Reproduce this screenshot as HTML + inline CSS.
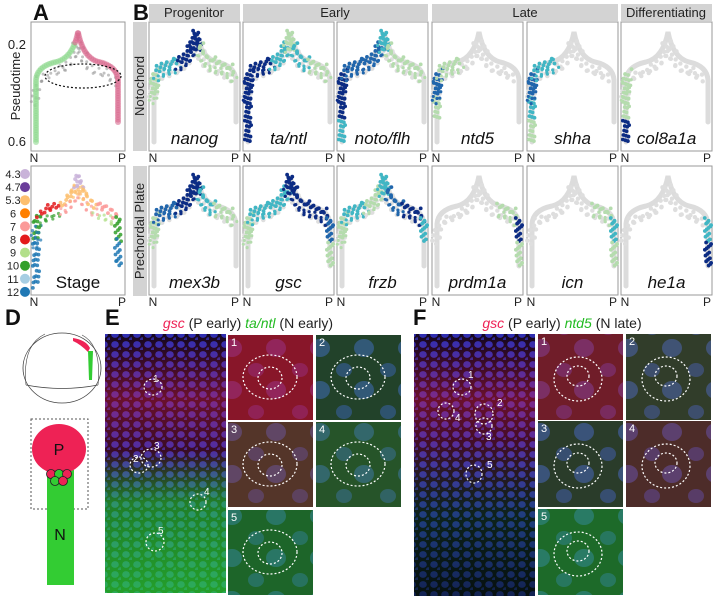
<!DOCTYPE html>
<html><head><meta charset="utf-8">
<style>
body{margin:0;background:#fff;}
svg{display:block;font-family:"Liberation Sans",sans-serif;}
</style></head>
<body>
<svg id="fig" width="715" height="598" viewBox="0 0 715 598">
<defs>
<pattern id="nuc" width="11" height="10" patternUnits="userSpaceOnUse">
<rect width="11" height="10" fill="#080620"/>
<ellipse cx="5" cy="4.5" rx="3.8" ry="3.4" fill="#2430b8"/>
<ellipse cx="10.5" cy="9.5" rx="2.6" ry="2.2" fill="#1e2aa0"/>
</pattern>
<pattern id="nucbig" width="44" height="42" patternUnits="userSpaceOnUse">
<rect width="44" height="42" fill="#0c0c2c"/>
<ellipse cx="12" cy="12" rx="10" ry="9" fill="#2530a8"/>
<ellipse cx="36" cy="34" rx="8" ry="7" fill="#20289a"/>
</pattern>
<linearGradient id="redTop" x1="0" y1="0" x2="0" y2="1">
<stop offset="0" stop-color="#ff2040" stop-opacity="0.05"/>
<stop offset="0.25" stop-color="#ff2040" stop-opacity="0.4"/>
<stop offset="0.5" stop-color="#ff2040" stop-opacity="0.15"/>
<stop offset="0.7" stop-color="#ff2040" stop-opacity="0"/>
</linearGradient>
<linearGradient id="greenBot" x1="0" y1="0" x2="0" y2="1">
<stop offset="0.45" stop-color="#30e030" stop-opacity="0"/>
<stop offset="0.65" stop-color="#30e030" stop-opacity="0.55"/>
<stop offset="1" stop-color="#30e030" stop-opacity="0.7"/>
</linearGradient>
<linearGradient id="greenBotF" x1="0" y1="0" x2="0" y2="1">
<stop offset="0.4" stop-color="#30c030" stop-opacity="0"/>
<stop offset="0.7" stop-color="#30c030" stop-opacity="0.2"/>
<stop offset="1" stop-color="#30c030" stop-opacity="0.15"/>
</linearGradient>
<linearGradient id="darkBot" x1="0" y1="0" x2="0" y2="1">
<stop offset="0.5" stop-color="#000" stop-opacity="0"/>
<stop offset="1" stop-color="#000" stop-opacity="0.5"/>
</linearGradient>
</defs>

<g font-size="13" text-anchor="middle" fill="#222">
<rect x="149" y="4" width="91" height="17" fill="#d3d3d3"/><text x="194" y="17">Progenitor</text>
<rect x="243" y="4" width="185" height="17" fill="#d3d3d3"/><text x="335" y="17">Early</text>
<rect x="432" y="4" width="186" height="17" fill="#d3d3d3"/><text x="525" y="17">Late</text>
<rect x="621" y="4" width="91" height="17" fill="#d3d3d3"/><text x="666" y="17">Differentiating</text>
</g>
<g font-size="13" fill="#222" text-anchor="middle">
<rect x="133" y="22" width="14" height="129" fill="#d3d3d3"/>
<text transform="translate(144,86) rotate(-90)">Notochord</text>
<rect x="133" y="166" width="14" height="130" fill="#d3d3d3"/>
<text transform="translate(144,231) rotate(-90)">Prechordal Plate</text>
</g>

<g font-size="22" font-weight="bold" fill="#111">
<text x="33" y="20">A</text><text x="133" y="20">B</text><text x="33" y="186">C</text>
<text x="5" y="325">D</text><text x="105" y="325">E</text><text x="413" y="325">F</text>
</g>

<g id="plots"></g>

<g font-size="13" fill="#222">
<text x="26" y="49" text-anchor="end">0.2</text>
<text x="26" y="146" text-anchor="end">0.6</text>
<text transform="translate(20,86) rotate(-90)" text-anchor="middle">Pseudotime</text>
</g>
<g font-size="12" fill="#222" id="legend"></g>

<g>
<ellipse cx="62" cy="368" rx="39" ry="35" fill="none" stroke="#444" stroke-width="0.8"/>
<path d="M26,385 Q62,392 98,385" fill="none" stroke="#444" stroke-width="0.8"/>
<path d="M26,385 Q22,345 45,334" fill="none" stroke="#444" stroke-width="0.6"/>
<path d="M98,385 Q102,345 82,335" fill="none" stroke="#444" stroke-width="0.6"/>
<path d="M73,338 Q86,340 90,348 L88,352 Q80,344 73,341Z" fill="#ee2255"/>
<path d="M88,351 L93,351 L92,380 L89,380Z" fill="#33cc33"/>
<rect x="31" y="419" width="57" height="90" fill="none" stroke="#555" stroke-dasharray="2,2" stroke-width="1"/>
<rect x="47" y="470" width="27" height="115" fill="#33cc33"/>
<ellipse cx="59" cy="449" rx="27" ry="25" fill="#ee2255"/>
<text x="59" y="455" font-size="16" text-anchor="middle" fill="#111">P</text>
<text x="60" y="540" font-size="16" text-anchor="middle" fill="#111">N</text>
<g stroke="#222" stroke-width="0.8">
<circle cx="51" cy="474" r="4.5" fill="#ee2255"/><circle cx="59" cy="474" r="4.5" fill="#33cc33"/><circle cx="67" cy="474" r="4.5" fill="#ee2255"/>
<circle cx="55" cy="481" r="4.5" fill="#33cc33"/><circle cx="63" cy="481" r="4.5" fill="#ee2255"/>
</g>
</g>

<text x="248" y="328" font-size="14" text-anchor="middle"><tspan fill="#ee2255" font-style="italic">gsc</tspan><tspan fill="#222"> (P early) </tspan><tspan fill="#22bb22" font-style="italic">ta/ntl</tspan><tspan fill="#222"> (N early)</tspan></text>
<text x="562" y="328" font-size="14" text-anchor="middle"><tspan fill="#ee2255" font-style="italic">gsc</tspan><tspan fill="#222"> (P early) </tspan><tspan fill="#22bb22" font-style="italic">ntd5</tspan><tspan fill="#222"> (N late)</tspan></text>
<g id="micro"></g>
</svg>
<script>
const genesRow1 = ["nanog","ta/ntl","noto/flh","ntd5","shha","col8a1a"];
const genesRow2 = ["mex3b","gsc","frzb","prdm1a","icn","he1a"];
const exprNanog  = [0,0,0.2,0.4,0.9,0.8,0.3,0.2,0,0];
const exprTa     = [0.8,0.9,0.9,0.8,0.4,0.3,0.5,0.2,0,0];
const exprNoto   = [0.5,0.8,0.8,0.7,0.6,0.5,0.3,0.1,0,0];
const exprNtd5   = [0,0.2,0.6,0.3,0,0,0,0,0,0];
const exprShha   = [0.3,0.5,0.7,0.4,0,0,0,0,0,0];
const exprCol8   = [0.9,0.1,0.2,0,0,0,0,0,0,0];
const exprMex3b  = [0,0,0.3,0.6,0.9,0.8,0.5,0.3,0,0];
const exprGsc    = [0,0,0.2,0.4,0.5,0.8,0.9,0.9,0.6,0.2];
const exprFrzb   = [0,0,0.2,0.4,0.3,0.5,0.7,0.8,0.5,0];
const exprPrdm1a = [0,0,0,0,0,0,0,0.2,0.9,0.3];
const exprIcn    = [0,0,0,0,0,0,0,0.3,0.5,0.1];
const exprHe1a   = [0,0,0,0,0,0,0,0,0.4,0.9];
const stageLabels = ["4.3","4.7","5.3","6","7","8","9","10","11","12"];
const stageColors = ["#c9b3d9","#6a3d9a","#fdbf6f","#ff7f00","#fb9a99","#e31a1c","#b2df8a","#33a02c","#a6cee3","#1f78b4"];
const stageByBin = [9,9,7,5,2,0,2,4,7,9];

const NS="http://www.w3.org/2000/svg";
const plots=document.getElementById('plots');
function el(tag,attrs,parent){const e=document.createElementNS(NS,tag);for(const k in attrs)e.setAttribute(k,attrs[k]);(parent||plots).appendChild(e);return e;}
const trajD="M5,120 L5,58 Q6,44 25,40 Q42,36 47,10 Q52,36 68,40 Q86,44 87,58 L87,100";
const tmp=el('path',{d:trajD,fill:'none'});
const L=tmp.getTotalLength();
function pt(f){return tmp.getPointAtLength(f*L);}
function colorOf(v){if(v<=0.05)return null;if(v<0.35)return "#b5dcae";if(v<0.6)return "#41b6c4";if(v<0.8)return "#2166ac";return "#0c2c84";}
function jitter(i){return ((i*37)%11-5)/1.6;}

function panel(x,y,w,h,name){
  const g=el('g',{transform:`translate(${x},${y})`});
  
  
  el('rect',{x:0,y:0,width:w,height:h,fill:'#fff',stroke:'#999','stroke-width':1},g);
  return g;
}
function greyBase(g){
  el('path',{d:trajD,fill:'none',stroke:'#dcdcdc','stroke-width':5,'stroke-linecap':'round'},g);
  for(let i=0;i<60;i++){const f=0.22+0.56*i/60;const p=pt(f);
    el('circle',{cx:p.x+jitter(i)*1.5,cy:p.y+6+Math.abs(jitter(i+7))*2.2,r:2.2,fill:'#dedede'},g);}
}
function exprDots(g,arr){
  const n=140;
  for(let i=0;i<=n;i++){
    const f=i/n;const bin=Math.min(9,Math.floor(f*10));
    const c=colorOf(arr[bin]);if(!c)continue;
    const p=pt(f);
    const d=el('circle',{cx:p.x+jitter(i),cy:p.y+jitter(i+3),r:1.9,fill:c},g);
    
    
    if(bin>=2&&bin<=7){
      const d2=el('circle',{cx:p.x+jitter(i+5)*1.5,cy:p.y+5+Math.abs(jitter(i+1))*2,r:1.6,fill:c},g);
      
      
    }
  }
}
const pxs=[149,243,337,432,527,621];
const rows=[[22,genesRow1,[exprNanog,exprTa,exprNoto,exprNtd5,exprShha,exprCol8]],[166,genesRow2,[exprMex3b,exprGsc,exprFrzb,exprPrdm1a,exprIcn,exprHe1a]]];
rows.forEach(([py,names,data])=>{
  names.forEach((nm,i)=>{
    const g=panel(pxs[i],py,91,129,'gene-panel-'+nm.replace('/','-'));
    greyBase(g);exprDots(g,data[i]);
    const t=el('text',{x:45.5,y:122,'font-size':17,'font-style':'italic','text-anchor':'middle',fill:'#111'},g);
    t.textContent=nm;
    
    ['N','P'].forEach((s,k)=>{const a=el('text',{x:pxs[i]+(k?86:4),y:py+140,'font-size':12,'text-anchor':'middle',fill:'#222'});a.textContent=s;
      });
  });
});
(function(){
  const g=panel(31,22,94,129,'pseudotime-panel');
  for(let i=0;i<60;i++){const f=0.2+0.6*i/60;const p=pt(f);
    el('circle',{cx:p.x+jitter(i)*1.5,cy:p.y+6+Math.abs(jitter(i+7))*2.5,r:1.5,fill:'#999',opacity:0.6},g);}
  for(let i=0;i<=100;i++){const f=i/100;const p=pt(f);
    const d=el('circle',{cx:p.x,cy:p.y,r:3,fill:f<0.5?'#8fd88f':'#d86a90',opacity:0.6},g);
    }
  el('ellipse',{cx:52,cy:54,rx:38,ry:12,fill:'none',stroke:'#111','stroke-dasharray':'2,2','stroke-width':1.2},g);
  ['N','P'].forEach((s,k)=>{const a=el('text',{x:k?122:34,y:162,'font-size':12,'text-anchor':'middle',fill:'#222'});a.textContent=s;
    });
})();
(function(){
  const g=panel(31,166,94,129,'stage-panel');
  for(let i=0;i<=120;i++){const f=i/120;const bin=Math.min(9,Math.floor(f*10));const p=pt(f);
    const d=el('circle',{cx:p.x+jitter(i),cy:p.y+jitter(i+2),r:1.9,fill:stageColors[stageByBin[bin]],opacity:0.85},g);
    
    if(bin>=2&&bin<=7){const d2=el('circle',{cx:p.x+jitter(i+4)*1.5,cy:p.y+6+Math.abs(jitter(i))*2,r:1.6,fill:stageColors[stageByBin[bin]+2]||'#fb9a99',opacity:0.7},g);
      }
  }
  const t=el('text',{x:47,y:122,'font-size':17,'text-anchor':'middle',fill:'#111'},g);t.textContent='Stage';
  ['N','P'].forEach((s,k)=>{const a=el('text',{x:k?122:34,y:306,'font-size':12,'text-anchor':'middle',fill:'#222'});a.textContent=s;
    });
  const lg=document.getElementById('legend');
  stageLabels.forEach((s,i)=>{const y=174+i*13.1;
    const tt=el('text',{x:13,y:y+4,'text-anchor':'middle','font-size':11},lg);tt.textContent=s;
    
    const c=el('circle',{cx:25,cy:y,r:5,fill:stageColors[i]},lg);
    });
})();
const micro=document.getElementById('micro');
function img(x,y,w,h,name,red,green,big,circles,label){
  const g=el('g',{},micro);
  
  el('rect',{x,y,width:w,height:h,fill:big?'url(#nucbig)':'url(#nuc)'},g);
  el('rect',{x,y,width:w,height:h,fill:red},g);
  el('rect',{x,y,width:w,height:h,fill:green},g);
  circles.forEach(c=>el('ellipse',{cx:x+c[0],cy:y+c[1],rx:c[2],ry:c[3],fill:'none',stroke:'#fff','stroke-dasharray':'2,2','stroke-width':1.2},g));
  if(label){const t=el('text',{x:x+3,y:y+11,'font-size':11,fill:'#fff'},g);t.textContent=label;}
}
function solid(c,o){return c.replace(')',','+o+')').replace('rgb','rgba');}
img(105,334,121,259,'panel-e-overview','url(#redTop)','url(#greenBot)',false,[[48,53,9,8],[34,131,9,8],[46,124,10,9],[93,168,8,8],[50,208,9,9]]);
[["1",48,48],["2",28,128],["3",49,115],["4",99,161],["5",53,200]].forEach(a=>{const t=el('text',{x:105+a[1],y:334+a[2],'font-size':10,fill:'#fff'},micro);t.textContent=a[0];});
const eIns=[[228,335,0.6,0.0],[316,335,0.1,0.3],[228,422,0.4,0.2],[316,422,0.12,0.4],[228,510,0.03,0.5]];
eIns.forEach((a,i)=>img(a[0],a[1],85,85,'panel-e-inset-'+(i+1),solid('rgb(220,30,40)',a[2]),solid('rgb(40,190,40)',a[3]),true,[[42,42,27,22],[42,43,12,11]],String(i+1)));
img(414,334,121,262,'panel-f-overview','url(#redTop)','url(#greenBotF)',false,[[48,53,9,8],[32,77,8,8],[70,80,9,10],[70,92,8,8],[60,140,8,9]]);
el('rect',{x:414,y:334,width:121,height:262,fill:'url(#darkBot)'},micro);
[["1",54,44],["4",41,87],["2",83,72],["3",72,106],["5",73,134]].forEach(a=>{const t=el('text',{x:414+a[1],y:334+a[2],'font-size':10,fill:'#fff'},micro);t.textContent=a[0];});
const fIns=[[538,334,0.5,0.05],[626,334,0.2,0.25],[538,421,0.15,0.25],[626,421,0.35,0.15],[538,509,0.03,0.5]];
fIns.forEach((a,i)=>img(a[0],a[1],85,86,'panel-f-inset-'+(i+1),solid('rgb(220,30,40)',a[2]),solid('rgb(40,200,40)',a[3]),true,[[40,45,24,22],[40,42,11,10]],String(i+1)));
tmp.remove();
</script>
</body></html>
